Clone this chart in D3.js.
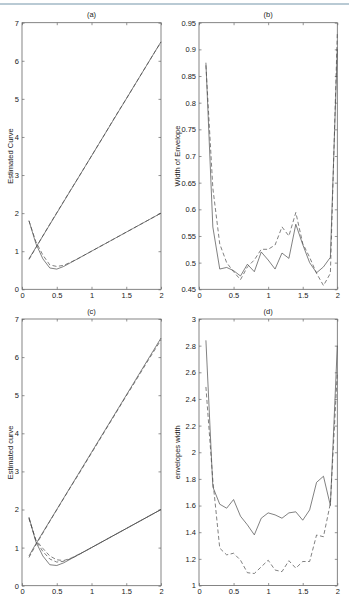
<!DOCTYPE html>
<html>
<head>
<meta charset="utf-8">
<script src="https://cdn.jsdelivr.net/npm/d3@7"></script>
<style>
  body { margin: 0; background: #fff; }
  svg text { font-family: "Liberation Sans", Arial, sans-serif; fill: #222; }
</style>
</head>
<body>
<div id="viz"></div>
<script>
// x grid shared by all panels
var xs = [0.1,0.2,0.3,0.4,0.5,0.6,0.7,0.8,0.9,1.0,1.1,1.2,1.3,1.4,1.5,1.6,1.7,1.8,1.9,2.0];
var xTicks = [0, 0.5, 1, 1.5, 2];

// (a) estimated curves
var aUpperSolid = [0.8,1.1,1.4,1.7,2.0,2.3,2.6,2.9,3.2,3.5,3.8,4.1,4.4,4.7,5.0,5.3,5.6,5.9,6.2,6.5];
var aUpperDash  = [0.78,1.09,1.4,1.71,2.01,2.31,2.61,2.9,3.2,3.5,3.8,4.1,4.41,4.71,5.0,5.3,5.6,5.9,6.2,6.49];
var aLowerSolid = [1.8,1.2,0.8,0.56,0.53,0.6,0.7,0.8,0.9,1.0,1.1,1.2,1.3,1.4,1.5,1.6,1.7,1.8,1.9,2.0];
var aLowerDash  = [1.8,1.25,0.9,0.64,0.6,0.63,0.71,0.8,0.9,1.0,1.1,1.2,1.3,1.4,1.5,1.6,1.7,1.8,1.9,2.0];

// (b) width of envelope
var bSolid = [0.875,0.567,0.488,0.491,0.485,0.475,0.497,0.483,0.52,0.505,0.488,0.518,0.508,0.572,0.534,0.5,0.481,0.492,0.51,0.9];
var bDash  = [0.87,0.64,0.535,0.5,0.483,0.468,0.492,0.505,0.525,0.525,0.533,0.567,0.55,0.594,0.536,0.51,0.48,0.457,0.48,0.93];

// (c) estimated curves
var cUpperSolid = [0.78,1.1,1.4,1.7,2.0,2.3,2.6,2.9,3.2,3.5,3.8,4.1,4.4,4.7,5.0,5.3,5.6,5.9,6.2,6.5];
var cUpperDash  = [0.74,1.07,1.38,1.69,1.99,2.29,2.59,2.88,3.18,3.48,3.78,4.08,4.38,4.68,4.98,5.27,5.57,5.87,6.16,6.45];
var cLowerSolid = [1.8,1.15,0.78,0.55,0.53,0.6,0.7,0.8,0.9,1.0,1.1,1.2,1.3,1.4,1.5,1.6,1.7,1.8,1.9,2.0];
var cLowerDash1 = [1.78,1.18,0.9,0.7,0.62,0.64,0.71,0.8,0.9,1.0,1.1,1.2,1.3,1.4,1.5,1.6,1.7,1.8,1.9,2.0];
var cLowerDash2 = [1.76,1.2,0.98,0.78,0.68,0.66,0.72,0.81,0.9,1.0,1.1,1.2,1.3,1.4,1.5,1.6,1.7,1.8,1.9,2.0];

// (d) envelopes width
var dSolid = [2.84,1.74,1.61,1.58,1.645,1.52,1.455,1.38,1.505,1.545,1.53,1.505,1.545,1.553,1.49,1.567,1.774,1.82,1.6,2.8];
var dDash  = [2.49,1.79,1.28,1.23,1.242,1.19,1.096,1.09,1.14,1.19,1.116,1.104,1.186,1.13,1.18,1.18,1.379,1.366,1.617,2.6];

var width = 349, height = 599;

var svg = d3.select("#viz").append("svg")
  .attr("width", width)
  .attr("height", height);

// thin bar across the top of the page
svg.append("rect")
  .attr("x", 0).attr("y", 3)
  .attr("width", width).attr("height", 2)
  .attr("fill", "#b9cad4");

var panels = [
  { title: "(a)", ylabel: "Estimated  Curve", labelX: 12.5, left: 22, right: 161, top: 22.7, bottom: 289.3,
    ydom: [0, 7], yticks: [0,1,2,3,4,5,6,7],
    series: [[aUpperSolid, false], [aUpperDash, true], [aLowerSolid, false], [aLowerDash, true]] },
  { title: "(b)", ylabel: "Width  of  Envelope", labelX: 179.5, left: 199, right: 337.3, top: 22.7, bottom: 289.3,
    ydom: [0.45, 0.95], yticks: [0.45,0.5,0.55,0.6,0.65,0.7,0.75,0.8,0.85,0.9,0.95],
    series: [[bSolid, false], [bDash, true]] },
  { title: "(c)", ylabel: "Estimated curve", labelX: 12.5, left: 22, right: 161, top: 319, bottom: 585.7,
    ydom: [0, 7], yticks: [0,1,2,3,4,5,6,7],
    series: [[cUpperSolid, false], [cUpperDash, true], [cLowerSolid, false], [cLowerDash1, true], [cLowerDash2, true]] },
  { title: "(d)", ylabel: "envelopes width", labelX: 179.5, left: 199, right: 337.3, top: 319, bottom: 585.5,
    ydom: [1, 3], yticks: [1,1.2,1.4,1.6,1.8,2,2.2,2.4,2.6,2.8,3],
    series: [[dSolid, false], [dDash, true]] }
];

var fmt = function(v) { return String(+v.toFixed(2)); };

panels.forEach(function(p) {
  var x = d3.scaleLinear().domain([0, 2]).range([p.left, p.right]);
  var y = d3.scaleLinear().domain(p.ydom).range([p.bottom, p.top]);
  var g = svg.append("g");

  // axes, ticks pointing inward on all four sides
  var axes = [
    [d3.axisBottom(x).tickValues(xTicks).tickFormat(fmt), "translate(0," + p.bottom + ")"],
    [d3.axisTop(x).tickValues(xTicks).tickFormat(""), "translate(0," + p.top + ")"],
    [d3.axisLeft(y).tickValues(p.yticks).tickFormat(fmt), "translate(" + p.left + ",0)"],
    [d3.axisRight(y).tickValues(p.yticks).tickFormat(""), "translate(" + p.right + ",0)"]
  ];
  axes.forEach(function(a) {
    var ax = g.append("g")
      .attr("transform", a[1])
      .call(a[0].tickSize(-2.5).tickPadding(3));
    ax.select(".domain").remove();
    ax.selectAll("line").attr("stroke", "#666").attr("stroke-width", 0.7);
    ax.selectAll("text").attr("font-size", 7.5).attr("fill", "#333")
      .attr("font-family", "Liberation Sans, Arial, sans-serif");
  });

  g.append("rect")
    .attr("x", p.left).attr("y", p.top)
    .attr("width", p.right - p.left).attr("height", p.bottom - p.top)
    .attr("fill", "none").attr("stroke", "#666").attr("stroke-width", 0.8);

  var line = d3.line()
    .x(function(d, i) { return x(xs[i]); })
    .y(function(d) { return y(d); });

  p.series.forEach(function(s) {
    g.append("path")
      .attr("d", line(s[0]))
      .attr("fill", "none")
      .attr("stroke", "#4a4a4a")
      .attr("stroke-width", 0.7)
      .attr("stroke-dasharray", s[1] ? "4,2.5" : null);
  });

  g.append("text")
    .attr("x", (p.left + p.right) / 2)
    .attr("y", p.top - 5.5)
    .attr("text-anchor", "middle")
    .attr("font-size", 7.5)
    .attr("fill", "#333")
    .text(p.title);

  g.append("text")
    .attr("transform", "translate(" + p.labelX + "," + ((p.top + p.bottom) / 2) + ") rotate(-90)")
    .attr("text-anchor", "middle")
    .attr("font-size", 7.5)
    .attr("fill", "#333")
    .text(p.ylabel);
});
</script>
</body>
</html>
